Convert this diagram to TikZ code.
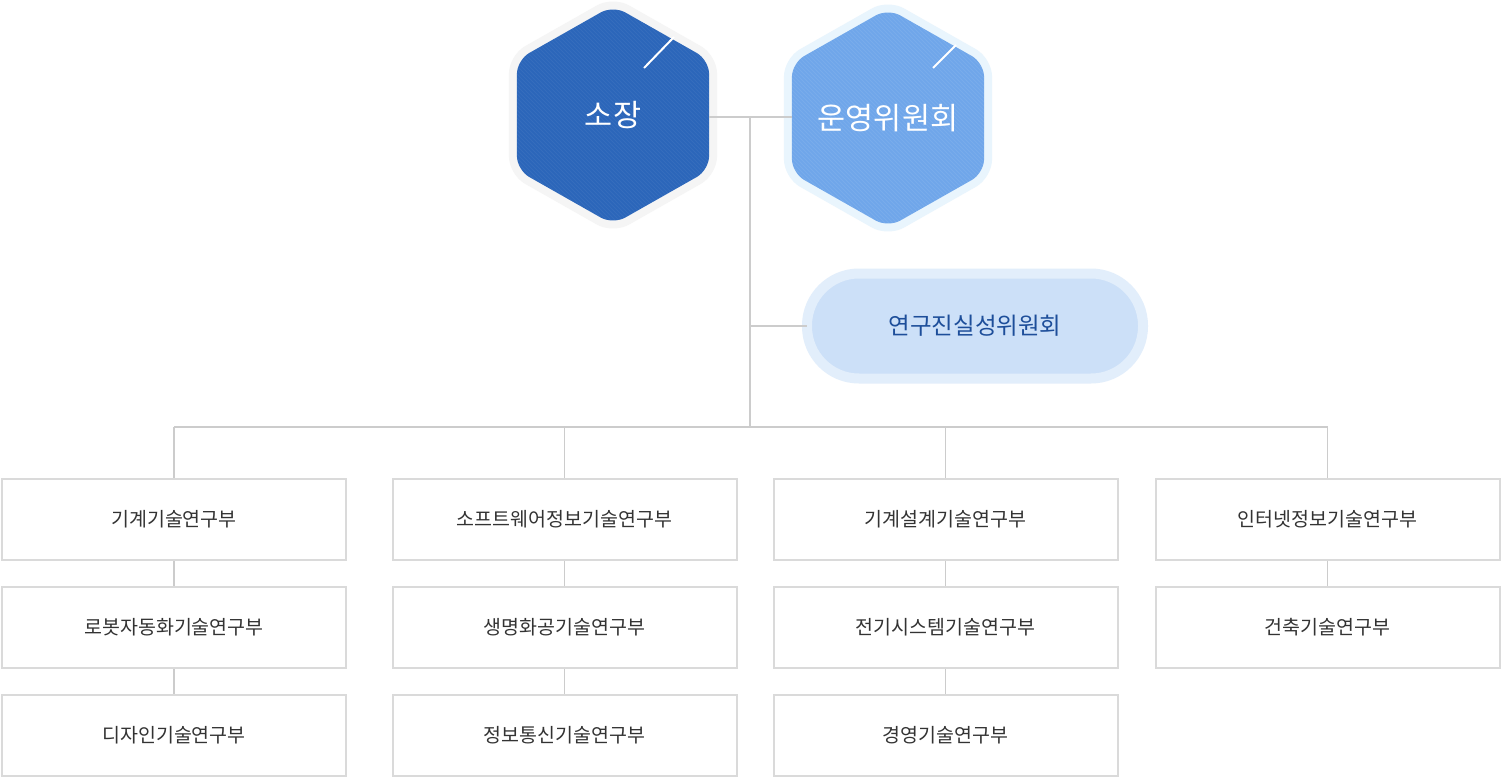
\documentclass[tikz,border=0pt]{standalone}
\usepackage{fontspec}
\setmainfont{Noto Sans CJK KR}
\begin{document}
\begin{tikzpicture}[x=1pt,y=-1pt,
  conn/.style={draw=linegray,line width=1.8pt},
  dept/.style={draw=boxgray,line width=2pt,fill=white,minimum width=344pt,minimum height=81pt,inner sep=0pt,text=txtgray,font=\fontsize{19.5}{22}\selectfont},
  hexlabel/.style={minimum width=192pt,minimum height=220pt,inner sep=0pt,text=white,font=\fontsize{30.5}{34}\selectfont},
  pill/.style={draw=pillhalo,line width=10pt,fill=pillfill,rounded corners=52pt,minimum width=336pt,minimum height=105pt,inner sep=0pt,text=pilltext,font=\fontsize{23.5}{26}\selectfont},
  gleam/.style={draw=white,line width=2pt}]
\definecolor{linegray}{HTML}{CCCCCC}
\definecolor{boxgray}{HTML}{DADADA}
\definecolor{txtgray}{HTML}{333333}
\definecolor{darkhex}{HTML}{2B66BA}
\definecolor{lighthex}{HTML}{6FA6EA}
\definecolor{halogray}{HTML}{F5F5F5}
\definecolor{halocyan}{HTML}{E9F5FD}
\definecolor{pillhalo}{HTML}{E2EEFB}
\definecolor{pillfill}{HTML}{CCE0F8}
\definecolor{pilltext}{HTML}{1D4E9A}
\useasboundingbox (0,0) rectangle (1501,778);
\fill[white] (0,0) rectangle (1501,778);

\def\hexpath#1#2{(#1+96.1,#2) -- (#1+96.1,#2+55) -- (#1,#2+109.5) -- (#1-96.1,#2+55) -- (#1-96.1,#2-55) -- (#1,#2-109.5) -- (#1+96.1,#2-55) -- cycle}
\draw[halogray,line width=16pt,rounded corners=14pt,line join=round] \hexpath{613}{115};
\fill[darkhex,rounded corners=14pt] \hexpath{613}{115};
\begin{scope}
  \clip[rounded corners=14pt] \hexpath{613}{115};
  \foreach \i in {-260,-256,...,260} \draw[white,opacity=0.05,line width=1pt] (613+\i-130,-20) -- ++(260,260);
\end{scope}
\draw[halocyan,line width=16pt,rounded corners=14pt,line join=round] \hexpath{888}{118};
\fill[lighthex,rounded corners=14pt] \hexpath{888}{118};
\begin{scope}
  \clip[rounded corners=14pt] \hexpath{888}{118};
  \foreach \i in {-260,-256,...,260} \draw[white,opacity=0.07,line width=1pt] (888+\i-130,-20) -- ++(260,260);
\end{scope}
\draw[gleam] (644,68) -- (674,37);
\draw[gleam] (933,68) -- (956,45);

\node[hexlabel] (sojang) at (613,115) {소장};
\node[hexlabel] (unyeong) at (888,118) {운영위원회};

\node[pill] (rd) at (975,326) {연구진실성위원회};

% departments
\node[dept] (a1) at (174,519.5) {기계기술연구부};
\node[dept] (a2) at (174,627.5) {로봇자동화기술연구부};
\node[dept] (a3) at (174,735.5) {디자인기술연구부};
\node[dept] (b1) at (564.5,519.5) {소프트웨어정보기술연구부};
\node[dept] (b2) at (564.5,627.5) {생명화공기술연구부};
\node[dept] (b3) at (564.5,735.5) {정보통신기술연구부};
\node[dept] (c1) at (945.5,519.5) {기계설계기술연구부};
\node[dept] (c2) at (945.5,627.5) {전기시스템기술연구부};
\node[dept] (c3) at (945.5,735.5) {경영기술연구부};
\node[dept] (d1) at (1327.5,519.5) {인터넷정보기술연구부};
\node[dept] (d2) at (1327.5,627.5) {건축기술연구부};

% connectors
\coordinate (j1) at (750,117);
\coordinate (bus) at (750,427);
\draw[conn] (sojang.east |- j1) -- (unyeong.west |- j1);
\draw[conn] (j1) -- (bus);
\draw[conn] (j1 |- rd.west) -- ([xshift=5pt]rd.west);
\draw[conn] (a1.north |- bus) -- (d1.north |- bus);
\draw[conn] (a1.north |- bus) -- (a1.north);
\draw[conn] (b1.north |- bus) -- (b1.north);
\draw[conn] (c1.north |- bus) -- (c1.north);
\draw[conn] (d1.north |- bus) -- (d1.north);
\draw[conn] (a1) -- (a2);
\draw[conn] (a2) -- (a3);
\draw[conn] (b1) -- (b2);
\draw[conn] (b2) -- (b3);
\draw[conn] (c1) -- (c2);
\draw[conn] (c2) -- (c3);
\draw[conn] (d1) -- (d2);
\end{tikzpicture}
\end{document}
